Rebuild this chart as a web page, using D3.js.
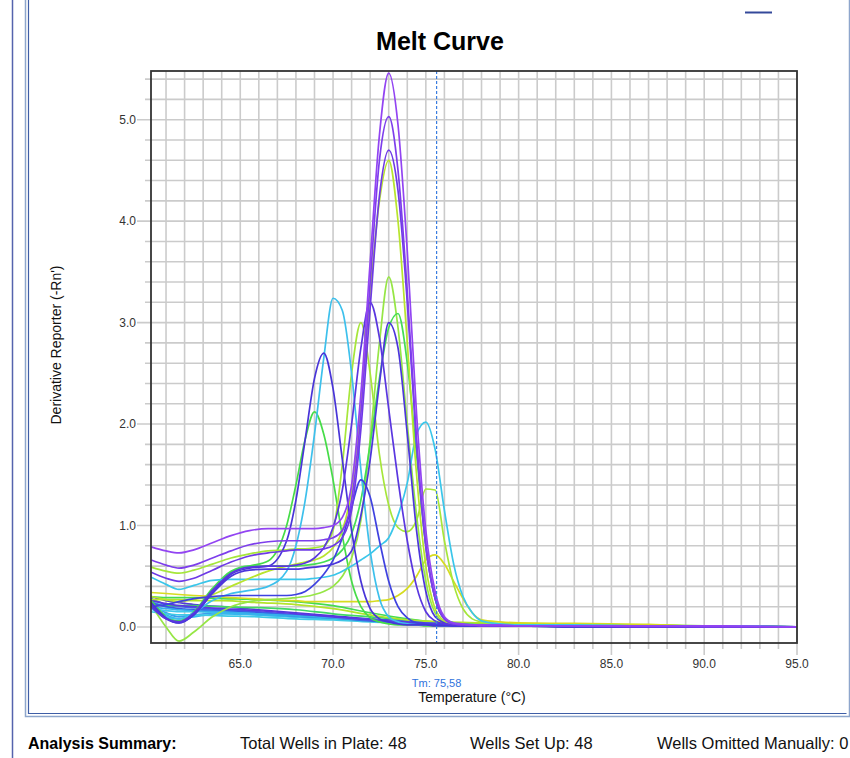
<!DOCTYPE html>
<html>
<head>
<meta charset="utf-8">
<script src="https://cdn.jsdelivr.net/npm/d3@7"></script>
<style>
  body { margin: 0; background: #fff; }
  svg { display: block; font-family: "Liberation Sans", Arial, sans-serif; }
</style>
</head>
<body>
<div id="melt_curve_vis"></div>
<script>
// temperatures (deg C) the wells were read at
var peakTemps = [60.2, 61, 61.7, 62.5, 63.5, 64.5, 65.5, 66.5, 67.5, 68, 68.5, 69, 69.5, 70, 70.5, 71, 71.5, 72,
                 72.5, 73, 73.5, 74, 74.5, 75, 75.5, 76, 76.5, 77, 77.5, 78, 79, 80, 83, 87, 91, 95];
var flatTemps = [60.2, 61, 61.7, 62.5, 64, 66, 68, 70, 72, 74, 76, 78, 80, 85, 90, 95];

// wells with no product (flat derivative)
var flatCyan1   = [0.25, 0.20, 0.17, 0.17, 0.16, 0.14, 0.12, 0.10, 0.07, 0.05, 0.03, 0.02, 0.02, 0.01, 0.01, 0.0];
var flatBlue1   = [0.22, 0.14, 0.10, 0.12, 0.14, 0.12, 0.10, 0.08, 0.06, 0.04, 0.02, 0.02, 0.01, 0.01, 0.0, 0.0];
var flatCyan2   = [0.18, 0.16, 0.15, 0.15, 0.14, 0.12, 0.10, 0.08, 0.06, 0.04, 0.03, 0.02, 0.01, 0.01, 0.0, 0.0];
var flatBlue2   = [0.28, 0.22, 0.20, 0.19, 0.17, 0.15, 0.12, 0.10, 0.07, 0.05, 0.03, 0.02, 0.02, 0.01, 0.01, 0.0];
var flatViolet1 = [0.30, 0.26, 0.24, 0.22, 0.20, 0.17, 0.14, 0.11, 0.08, 0.06, 0.04, 0.03, 0.02, 0.01, 0.01, 0.0];
var flatGreen1  = [0.30, 0.29, 0.29, 0.29, 0.28, 0.27, 0.25, 0.21, 0.14, 0.08, 0.04, 0.03, 0.03, 0.02, 0.01, 0.0];
var flatGreen2  = [0.22, 0.21, 0.21, 0.21, 0.20, 0.19, 0.17, 0.13, 0.10, 0.07, 0.04, 0.03, 0.02, 0.02, 0.01, 0.0];
var flatLime1   = [0.27, 0.27, 0.27, 0.26, 0.26, 0.24, 0.22, 0.18, 0.12, 0.07, 0.05, 0.04, 0.03, 0.02, 0.01, 0.0];
var flatCyan3   = [0.20, 0.12, 0.08, 0.10, 0.13, 0.12, 0.10, 0.08, 0.06, 0.04, 0.02, 0.02, 0.01, 0.01, 0.0, 0.0];
var flatCyan4   = [0.15, 0.13, 0.12, 0.12, 0.11, 0.10, 0.08, 0.07, 0.05, 0.04, 0.02, 0.02, 0.01, 0.01, 0.0, 0.0];
var flatBlue3   = [0.24, 0.20, 0.18, 0.17, 0.16, 0.14, 0.11, 0.09, 0.06, 0.04, 0.02, 0.02, 0.01, 0.01, 0.0, 0.0];
var flatCyan5   = [0.20, 0.18, 0.17, 0.16, 0.15, 0.13, 0.11, 0.09, 0.07, 0.05, 0.03, 0.02, 0.01, 0.01, 0.0, 0.0];
var flatViolet2 = [0.26, 0.23, 0.21, 0.20, 0.18, 0.16, 0.13, 0.10, 0.07, 0.05, 0.03, 0.02, 0.02, 0.01, 0.01, 0.0];

// wells with a melt peak
var yellowY = [0.34, 0.33, 0.32, 0.31, 0.30, 0.29, 0.28, 0.27, 0.26, 0.26, 0.25, 0.25, 0.25, 0.25, 0.25, 0.25, 0.25, 0.25,
               0.26, 0.27, 0.31, 0.38, 0.50, 0.66, 0.71, 0.62, 0.45, 0.28, 0.14, 0.07, 0.05, 0.04, 0.035, 0.025, 0.0, 0.0];
var greenL  = [0.26, 0.10, 0.05, 0.14, 0.36, 0.54, 0.60, 0.65, 1.00, 1.40, 1.85, 2.12, 1.90, 1.45, 0.90, 0.45, 0.20, 0.09,
               0.05, 0.03, 0.02, 0.02, 0.02, 0.01, 0.01, 0.01, 0.01, 0.01, 0.01, 0.01, 0.01, 0.01, 0.0, 0.0, 0.0, 0.0];
var limeJ   = [0.59, 0.55, 0.53, 0.56, 0.62, 0.68, 0.72, 0.75, 0.76, 0.77, 0.77, 0.78, 0.80, 0.95, 1.60, 2.50, 3.00, 2.50,
               1.70, 1.20, 0.98, 0.94, 1.05, 1.36, 1.35, 0.85, 0.42, 0.18, 0.08, 0.05, 0.03, 0.02, 0.02, 0.01, 0.0, 0.0];
var limeE   = [0.22, 0.0, -0.14, -0.05, 0.10, 0.20, 0.25, 0.27, 0.28, 0.29, 0.30, 0.32, 0.35, 0.40, 0.50, 0.68, 1.05, 1.85,
               2.80, 3.45, 2.95, 2.00, 1.10, 0.45, 0.14, 0.05, 0.03, 0.02, 0.02, 0.02, 0.01, 0.01, 0.01, 0.0, 0.0, 0.0];
var greenF  = [0.25, 0.10, 0.06, 0.15, 0.38, 0.55, 0.60, 0.60, 0.60, 0.60, 0.61, 0.62, 0.64, 0.68, 0.76, 0.92, 1.25, 1.80,
               2.45, 2.95, 3.09, 2.60, 1.70, 0.80, 0.28, 0.08, 0.04, 0.03, 0.02, 0.02, 0.01, 0.01, 0.01, 0.01, 0.0, 0.0];
var cyanI   = [0.18, 0.10, 0.08, 0.14, 0.26, 0.33, 0.36, 0.40, 0.55, 0.80, 1.25, 1.90, 2.65, 3.24, 3.12, 2.50, 1.55, 0.75,
               0.28, 0.10, 0.05, 0.03, 0.02, 0.02, 0.02, 0.01, 0.01, 0.01, 0.01, 0.01, 0.01, 0.01, 0.01, 0.0, 0.0, 0.0];
var cyanM   = [0.49, 0.42, 0.37, 0.41, 0.46, 0.47, 0.47, 0.47, 0.47, 0.47, 0.47, 0.48, 0.49, 0.51, 0.55, 0.60, 0.66, 0.72,
               0.80, 0.88, 1.10, 1.42, 1.90, 2.02, 1.75, 1.15, 0.62, 0.30, 0.14, 0.06, 0.03, 0.02, 0.02, 0.01, 0.01, 0.0];
var limeD   = [0.30, 0.27, 0.25, 0.27, 0.32, 0.40, 0.48, 0.55, 0.60, 0.62, 0.64, 0.66, 0.70, 0.78, 0.95, 1.35, 2.20, 3.30,
               4.20, 4.60, 4.00, 2.80, 1.50, 0.60, 0.18, 0.06, 0.03, 0.02, 0.02, 0.02, 0.01, 0.01, 0.01, 0.0, 0.0, 0.0];
var blueN   = [0.20, 0.22, 0.25, 0.28, 0.30, 0.31, 0.31, 0.31, 0.31, 0.32, 0.35, 0.42, 0.52, 0.66, 0.88, 1.18, 1.45, 1.28,
               0.85, 0.45, 0.20, 0.09, 0.04, 0.03, 0.02, 0.02, 0.01, 0.01, 0.01, 0.01, 0.01, 0.01, 0.0, 0.0, 0.0, 0.0];
var blueK   = [0.24, 0.09, 0.04, 0.12, 0.34, 0.52, 0.58, 0.60, 0.85, 1.25, 1.85, 2.45, 2.70, 2.35, 1.65, 0.95, 0.45, 0.18,
               0.08, 0.05, 0.03, 0.02, 0.02, 0.02, 0.01, 0.01, 0.01, 0.01, 0.01, 0.01, 0.01, 0.01, 0.0, 0.0, 0.0, 0.0];
var blueH   = [0.22, 0.08, 0.04, 0.12, 0.33, 0.50, 0.56, 0.57, 0.57, 0.57, 0.58, 0.59, 0.60, 0.62, 0.66, 0.75, 1.10, 1.65,
               2.40, 3.00, 2.75, 1.90, 0.95, 0.35, 0.10, 0.04, 0.02, 0.02, 0.01, 0.01, 0.01, 0.01, 0.01, 0.0, 0.0, 0.0];
var blueG   = [0.20, 0.08, 0.05, 0.14, 0.36, 0.53, 0.59, 0.60, 0.60, 0.61, 0.63, 0.68, 0.78, 0.98, 1.35, 2.00, 2.75, 3.20,
               2.85, 2.15, 1.45, 0.85, 0.40, 0.15, 0.06, 0.03, 0.02, 0.02, 0.01, 0.01, 0.01, 0.01, 0.01, 0.0, 0.0, 0.0];
var violetC = [0.54, 0.48, 0.45, 0.48, 0.56, 0.64, 0.70, 0.73, 0.75, 0.76, 0.76, 0.76, 0.77, 0.80, 0.88, 1.15, 1.95, 3.15,
               4.25, 4.70, 4.30, 3.20, 1.80, 0.80, 0.28, 0.08, 0.03, 0.02, 0.02, 0.01, 0.01, 0.01, 0.01, 0.0, 0.0, 0.0];
var purpleB = [0.66, 0.61, 0.58, 0.61, 0.68, 0.75, 0.81, 0.84, 0.85, 0.85, 0.85, 0.85, 0.86, 0.88, 0.95, 1.25, 2.10, 3.40,
               4.60, 5.03, 4.50, 3.30, 1.85, 0.80, 0.28, 0.08, 0.03, 0.02, 0.02, 0.01, 0.01, 0.01, 0.01, 0.01, 0.0, 0.0];
var purpleA = [0.79, 0.75, 0.73, 0.76, 0.83, 0.90, 0.95, 0.97, 0.97, 0.97, 0.97, 0.97, 0.98, 1.00, 1.08, 1.40, 2.30, 3.60,
               4.85, 5.46, 4.95, 3.70, 2.10, 0.95, 0.35, 0.10, 0.04, 0.03, 0.02, 0.02, 0.02, 0.01, 0.01, 0.01, 0.01, 0.0];

var xTicks = [65, 70, 75, 80, 85, 90, 95];
var yTicks = [0, 1, 2, 3, 4, 5];
var tm = 75.58;
var summaryLabels = ["Total Wells in Plate: 48", "Wells Set Up: 48", "Wells Omitted Manually: 0"];

(function(){

    var width = 850;
    var height = 758;

    var plot = { left: 151, right: 797, top: 71, bottom: 643 };

    var svg = d3.select("#melt_curve_vis")
        .append("svg")
            .attr("width", width)
            .attr("height", height);

    svg.append("rect")
        .attr("width", width)
        .attr("height", height)
        .attr("fill", "#fff");

    // window frame lines
    svg.append("line")
        .attr("x1", 12.5).attr("x2", 12.5).attr("y1", 0).attr("y2", height)
        .attr("stroke", "#5563ad").attr("stroke-width", 1.5);
    svg.append("path")
        .attr("d", "M25.5,0V716.5H849.5V0")
        .attr("fill", "none").attr("stroke", "#8ea6cc").attr("stroke-width", 1.5);
    svg.append("path")
        .attr("d", "M28.5,0V713.5H846.5")
        .attr("fill", "none").attr("stroke", "#3f5ea6").attr("stroke-width", 1.2);
    svg.append("line")
        .attr("x1", 745).attr("x2", 772).attr("y1", 12.5).attr("y2", 12.5)
        .attr("stroke", "#34499a").attr("stroke-width", 2);

    var x = d3.scaleLinear()
        .domain([60.19, 95])
        .range([plot.left, plot.right]);

    var y = d3.scaleLinear()
        .domain([-0.158, 5.48])
        .range([plot.bottom, plot.top]);

    var xGrid = d3.range(61, 95.5, 1);
    var yGrid = d3.range(0, 27.5, 1).map(function(i){ return i / 5; });

    // grid
    var grid = svg.append("g").attr("class", "grid");
    grid.selectAll("line.vx")
        .data(xGrid)
        .enter().append("line")
            .attr("class", "vx")
            .attr("x1", function(d){ return x(d); })
            .attr("x2", function(d){ return x(d); })
            .attr("y1", plot.top)
            .attr("y2", function(d){ return plot.bottom + (d % 5 === 0 ? 12 : 6); })
            .attr("stroke", "#cbcbcb")
            .attr("stroke-width", 1.6);
    grid.selectAll("line.hy")
        .data(yGrid)
        .enter().append("line")
            .attr("class", "hy")
            .attr("y1", function(d){ return y(d); })
            .attr("y2", function(d){ return y(d); })
            .attr("x1", function(d){ return plot.left - (Math.abs(d - Math.round(d)) < 1e-6 ? 14 : 6); })
            .attr("x2", plot.right)
            .attr("stroke", "#cbcbcb")
            .attr("stroke-width", 1.6);

    // tick labels
    svg.append("g")
        .selectAll("text")
        .data(xTicks)
        .enter().append("text")
            .attr("x", function(d){ return x(d); })
            .attr("y", 668)
            .attr("text-anchor", "middle")
            .attr("font-size", "12px")
            .attr("fill", "#333")
            .text(d3.format(".1f"));

    svg.append("g")
        .selectAll("text")
        .data(yTicks)
        .enter().append("text")
            .attr("x", 136)
            .attr("y", function(d){ return y(d); })
            .attr("dy", "0.35em")
            .attr("text-anchor", "end")
            .attr("font-size", "12px")
            .attr("fill", "#333")
            .text(d3.format(".1f"));

    // curves
    svg.append("clipPath")
        .attr("id", "plot_clip")
        .append("rect")
            .attr("x", plot.left)
            .attr("y", plot.top)
            .attr("width", plot.right - plot.left)
            .attr("height", plot.bottom - plot.top);

    var line = d3.line()
        .x(function(d){ return x(d[0]); })
        .y(function(d){ return y(d[1]); })
        .curve(d3.curveMonotoneX);

    var wells = [
        { temps: flatTemps, values: flatCyan1,   colour: "#3cc3ec" },
        { temps: flatTemps, values: flatBlue1,   colour: "#3b9eee" },
        { temps: flatTemps, values: flatCyan2,   colour: "#42c8ea" },
        { temps: flatTemps, values: flatBlue2,   colour: "#3d6be6" },
        { temps: flatTemps, values: flatViolet1, colour: "#5136de" },
        { temps: flatTemps, values: flatGreen1,  colour: "#44dc50" },
        { temps: flatTemps, values: flatGreen2,  colour: "#3fd866" },
        { temps: flatTemps, values: flatLime1,   colour: "#b4e42c" },
        { temps: flatTemps, values: flatCyan3,   colour: "#35b6ee" },
        { temps: flatTemps, values: flatCyan4,   colour: "#3fc9e6" },
        { temps: flatTemps, values: flatBlue3,   colour: "#3a58e4" },
        { temps: flatTemps, values: flatCyan5,   colour: "#36aeea" },
        { temps: flatTemps, values: flatViolet2, colour: "#5a38e2" },
        { temps: peakTemps, values: yellowY,     colour: "#d6dc20" },
        { temps: peakTemps, values: greenL,      colour: "#46dc48" },
        { temps: peakTemps, values: limeJ,       colour: "#a6e63a" },
        { temps: peakTemps, values: limeE,       colour: "#96e645" },
        { temps: peakTemps, values: greenF,      colour: "#44dd55" },
        { temps: peakTemps, values: cyanI,       colour: "#3dc0ec" },
        { temps: peakTemps, values: cyanM,       colour: "#3ac6ea" },
        { temps: peakTemps, values: limeD,       colour: "#b8e42e" },
        { temps: peakTemps, values: blueN,       colour: "#3f42e0" },
        { temps: peakTemps, values: blueK,       colour: "#4834d8" },
        { temps: peakTemps, values: blueH,       colour: "#4c36dc" },
        { temps: peakTemps, values: blueG,       colour: "#5a36e0" },
        { temps: peakTemps, values: violetC,     colour: "#6e3ae6" },
        { temps: peakTemps, values: purpleB,     colour: "#7d3eec" },
        { temps: peakTemps, values: purpleA,     colour: "#9244f2" }
    ];

    svg.append("g")
        .attr("class", "wells")
        .attr("clip-path", "url(#plot_clip)")
        .selectAll("path")
        .data(wells)
        .enter().append("path")
            .attr("d", function(w){ return line(d3.zip(w.temps, w.values)); })
            .attr("fill", "none")
            .attr("stroke", function(w){ return w.colour; })
            .attr("stroke-width", 1.7)
            .attr("stroke-linejoin", "round");

    // Tm marker
    svg.append("line")
        .attr("x1", x(tm)).attr("x2", x(tm))
        .attr("y1", plot.top).attr("y2", plot.bottom)
        .attr("stroke", "#3a7de0")
        .attr("stroke-width", 1.2)
        .attr("stroke-dasharray", "3,2");

    svg.append("text")
        .attr("x", x(tm))
        .attr("y", 687)
        .attr("text-anchor", "middle")
        .attr("font-size", "11px")
        .attr("fill", "#2f72dc")
        .text("Tm: " + String(tm).replace(".", ","));

    // plot frame
    svg.append("rect")
        .attr("x", plot.left)
        .attr("y", plot.top)
        .attr("width", plot.right - plot.left)
        .attr("height", plot.bottom - plot.top)
        .attr("fill", "none")
        .attr("stroke", "#333")
        .attr("stroke-width", 1.8);

    // titles
    svg.append("text")
        .attr("x", 440)
        .attr("y", 50)
        .attr("text-anchor", "middle")
        .attr("font-size", "25px")
        .attr("font-weight", "bold")
        .attr("fill", "#000")
        .text("Melt Curve");

    svg.append("text")
        .attr("x", 472)
        .attr("y", 702)
        .attr("text-anchor", "middle")
        .attr("font-size", "14px")
        .attr("fill", "#111")
        .text("Temperature (\u00b0C)");

    svg.append("text")
        .attr("transform", "translate(61,345) rotate(-90)")
        .attr("text-anchor", "middle")
        .attr("font-size", "14px")
        .attr("fill", "#111")
        .text("Derivative Reporter (-Rn')");

    // summary bar
    svg.append("text")
        .attr("x", 28)
        .attr("y", 749)
        .attr("font-size", "16px")
        .attr("font-weight", "bold")
        .attr("fill", "#000")
        .text("Analysis Summary:");

    var summaryX = [240, 470, 657];
    svg.append("g")
        .selectAll("text")
        .data(summaryLabels)
        .enter().append("text")
            .attr("x", function(d, i){ return summaryX[i]; })
            .attr("y", 749)
            .attr("font-size", "16.5px")
            .attr("fill", "#111")
            .text(function(d){ return d; });

})();
</script>
</body>
</html>
